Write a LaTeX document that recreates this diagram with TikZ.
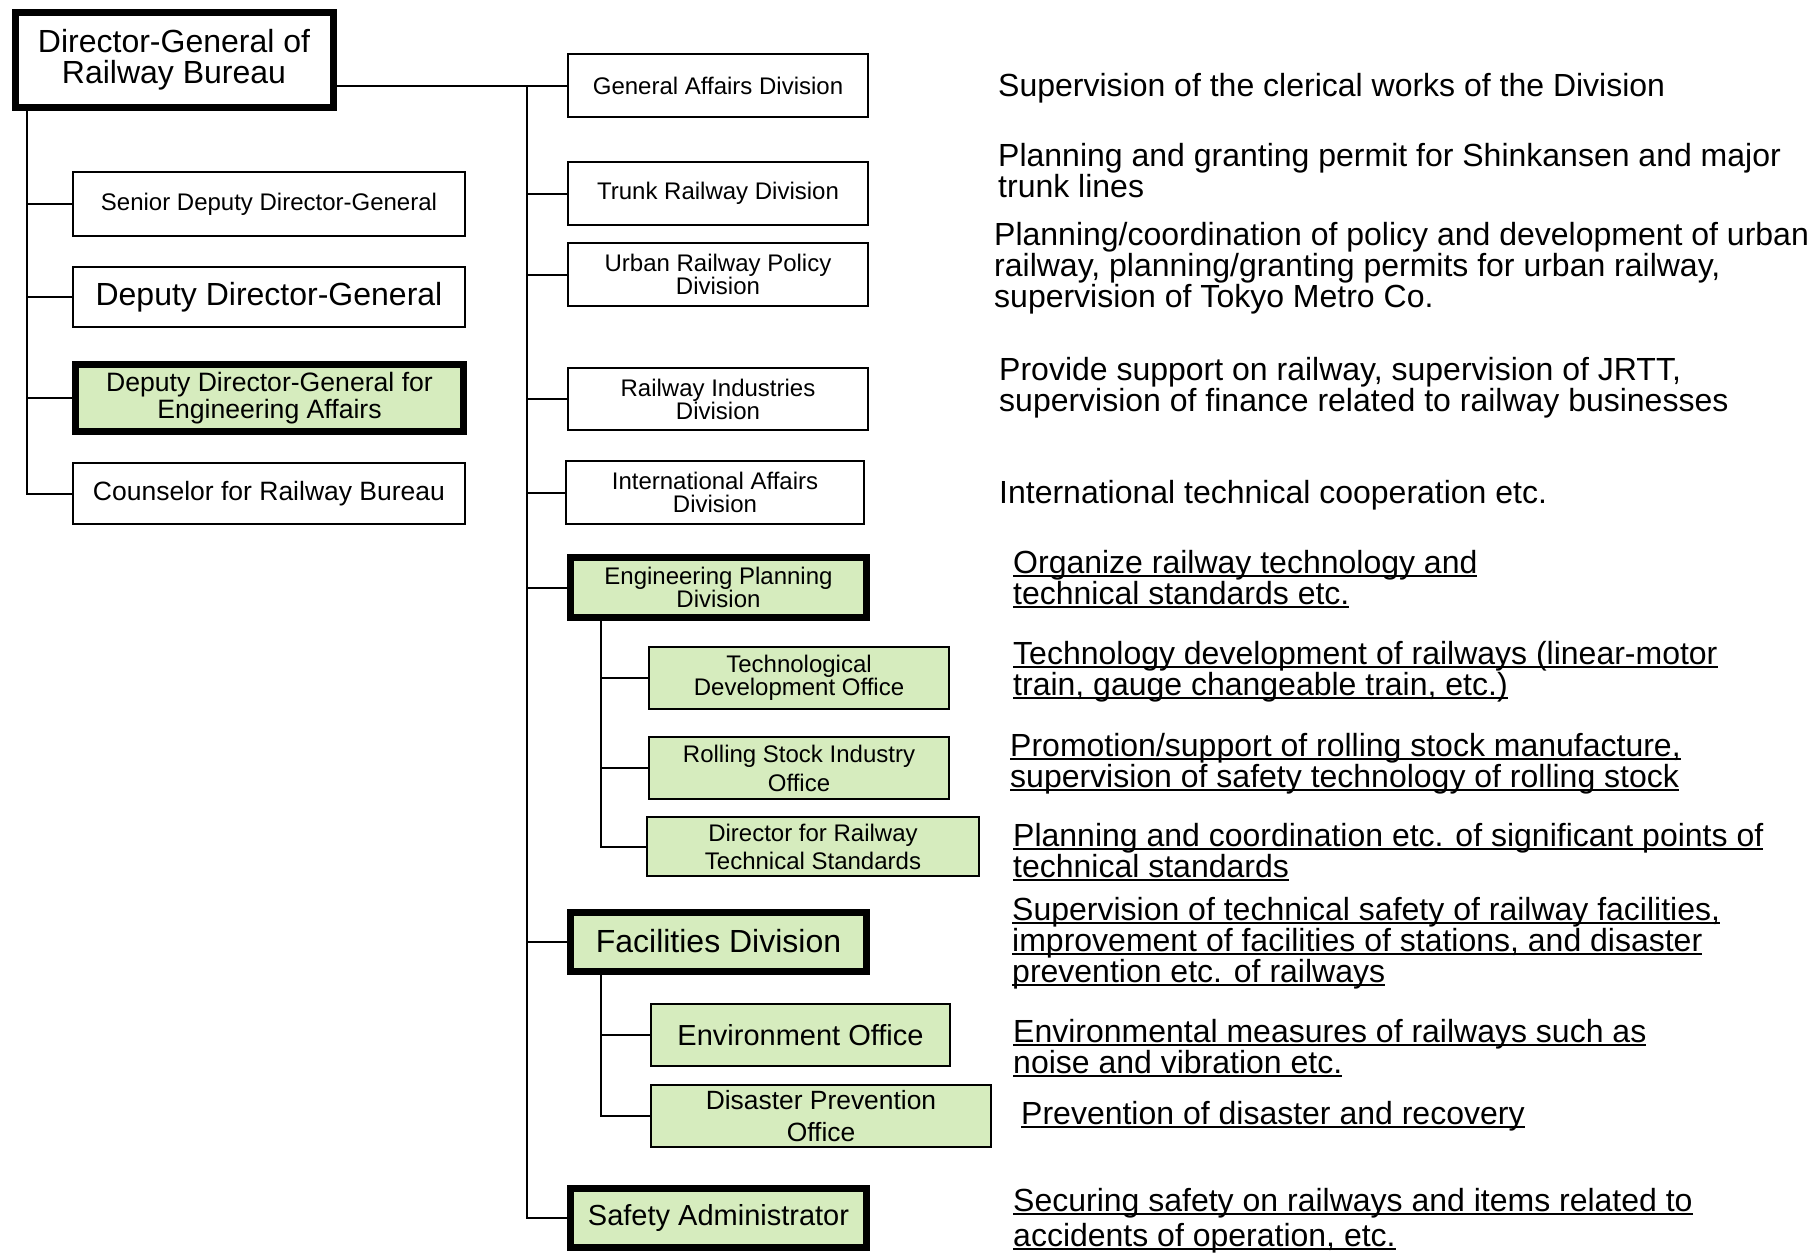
\documentclass[tikz,border=0pt]{standalone}
\usepackage{fontspec}
\setmainfont{Liberation Sans}
\definecolor{boxgreen}{RGB}{214,236,190}
\newcommand\myfs[2]{\fontsize{#1}{#2}\selectfont}
\newcommand\ulx[1]{\setbox0=\hbox{#1}\rlap{\rule[-0.11em]{\wd0}{0.065em}}\box0}
\tikzset{
  obox/.style={draw=black, line width=2pt, fill=white, align=center, inner sep=0pt},
  gbox/.style={obox, fill=boxgreen},
  heavy/.style={line width=7pt},
  ln/.style={line width=2pt, draw=black},
  desc/.style={anchor=west, align=left, inner sep=0pt, font=\myfs{32}{31}, yshift=-2.5pt}
}
\begin{document}
\begin{tikzpicture}[x=1pt,y=-1pt]
\useasboundingbox (0,0) rectangle (1816,1254);
% left column
\node[obox, heavy, minimum width=318, minimum height=95, font=\myfs{32}{31}] (dg) at (174,60) {Director-General of\\Railway Bureau};
\node[obox, minimum width=392, minimum height=64, font=\myfs{24}{23}] (sdg) at (269,204) {Senior Deputy Director-General};
\node[obox, minimum width=392, minimum height=60, font=\myfs{32}{31}] (ddg) at (269,297) {Deputy Director-General};
\node[gbox, heavy, minimum width=388, minimum height=67, font=\myfs{26.6}{26.6}] (ddge) at (269.5,398) {Deputy Director-General for\\Engineering Affairs};
\node[obox, minimum width=392, minimum height=61, font=\myfs{26.5}{26}] (cou) at (269,493.5) {Counselor for Railway Bureau};
% divisions
\node[obox, minimum width=300, minimum height=63, font=\myfs{24}{23}] (gad) at (718,85.5) {General Affairs Division};
\node[obox, minimum width=300, minimum height=63, font=\myfs{24}{23}] (trd) at (718,193.5) {Trunk Railway Division};
\node[obox, minimum width=300, minimum height=63, font=\myfs{24}{23}] (urd) at (718,274.5) {Urban Railway Policy\\Division};
\node[obox, minimum width=300, minimum height=62, font=\myfs{24}{23}] (rid) at (718,399) {Railway Industries\\Division};
\node[obox, minimum width=298, minimum height=63, font=\myfs{24}{23}] (iad) at (715,492.5) {International Affairs\\Division};
\node[gbox, heavy, minimum width=296, minimum height=60, font=\myfs{24}{23}] (epd) at (718.5,587.5) {Engineering Planning\\Division};
\node[gbox, minimum width=300, minimum height=62, font=\myfs{24}{23}] (tdo) at (799,678) {Technological\\Development Office};
\node[gbox, minimum width=300, minimum height=62, font=\myfs{24}{29}] (rso) at (799,768) {Rolling Stock Industry\\Office};
\node[gbox, minimum width=332, minimum height=59, font=\myfs{24}{28}] (dts) at (813,846.5) {Director for Railway\\Technical Standards};
\node[gbox, heavy, minimum width=296, minimum height=59, font=\myfs{32}{31}] (fad) at (718.5,941.5) {Facilities Division};
\node[gbox, minimum width=299, minimum height=62, font=\myfs{29}{29}] (env) at (800.5,1035) {Environment Office};
\node[gbox, minimum width=340, minimum height=62, font=\myfs{26.4}{32}] (dpo) at (821,1116) {Disaster Prevention\\Office};
\node[gbox, heavy, minimum width=296, minimum height=59, font=\myfs{29}{29}] (saf) at (718.5,1218) {Safety Administrator};
% connectors
\coordinate (lt) at (26.6,0);
\coordinate (rt) at (527,0);
\coordinate (st) at (601,0);
\draw[ln] (lt |- dg.south) |- (cou.west);
\foreach \n in {sdg,ddg,ddge} \draw[ln] (lt |- \n.west) -- (\n.west);
\draw[ln] (dg.east |- gad.west) -- (gad.west);
\draw[ln] (rt |- gad.west) |- (saf.west);
\foreach \n in {trd,urd,rid,iad,epd,fad} \draw[ln] (rt |- \n.west) -- (\n.west);
\draw[ln] (st |- epd.south) |- (dts.west);
\foreach \n in {tdo,rso} \draw[ln] (st |- \n.west) -- (\n.west);
\draw[ln] (st |- fad.south) |- (dpo.west);
\draw[ln] (st |- env.west) -- (env.west);
% descriptions
\node[desc] (t1) at (998,86) {Supervision of the clerical works of the Division};
\node[desc] (t2) at (998,168) {Planning and granting permit for Shinkansen and major\\trunk lines};
\node[desc] (t3) at (994,266) {Planning/coordination of policy and development of urban\\railway, planning/granting permits for urban railway,\\supervision of Tokyo Metro Co.};
\node[desc] (t4) at (999,385) {Provide support on railway, supervision of JRTT,\\supervision of finance related to railway businesses};
\node[desc] (t5) at (999,493) {International technical cooperation etc.};
\node[desc] (t6) at (1013,577) {\ulx{Organize railway technology and}\\\ulx{technical standards etc.}};
\node[desc] (t7) at (1013,669) {\ulx{Technology development of railways (linear-motor}\\\ulx{train, gauge changeable train, etc.)}};
\node[desc] (t8) at (1010,761) {\ulx{Promotion/support of rolling stock manufacture,}\\\ulx{supervision of safety technology of rolling stock}};
\node[desc] (t9) at (1013,850) {\ulx{Planning and coordination etc. of significant points of}\\\ulx{technical standards}};
\node[desc] (t10) at (1012,941) {\ulx{Supervision of technical safety of railway facilities,}\\\ulx{improvement of facilities of stations, and disaster}\\\ulx{prevention etc. of railways}};
\node[desc] (t11) at (1013,1046) {\ulx{Environmental measures of railways such as}\\\ulx{noise and vibration etc.}};
\node[desc] (t12) at (1021,1114) {\ulx{Prevention of disaster and recovery}};
\node[desc, font=\myfs{32}{35}] (t13) at (1013,1218) {\ulx{Securing safety on railways and items related to}\\\ulx{accidents of operation, etc.}};
\end{tikzpicture}
\end{document}
